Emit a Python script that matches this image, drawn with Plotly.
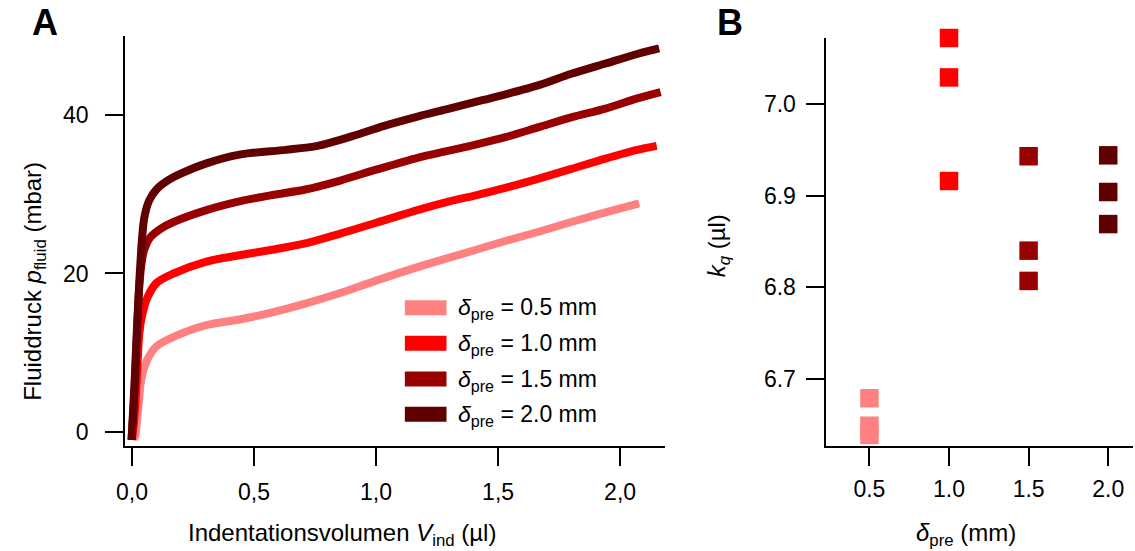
import plotly.graph_objects as go

# ---------------- data ----------------
# Panel A: fluid pressure vs. indentation volume for four pre-indentations
v_05 = [0.008, 0.015, 0.022, 0.030, 0.035, 0.045, 0.062, 0.10, 0.17, 0.305, 0.44, 0.575, 0.71,
        0.85, 1.00, 1.17, 1.30, 1.40, 1.53, 1.67, 1.80, 1.94, 2.078]
p_05 = [-1.0, -0.2, 1.9, 4.5, 6.1, 7.6, 9.1, 10.8, 12.0, 13.5, 14.2, 15.1, 16.2,
        17.5, 19.1, 20.8, 22.0, 22.9, 24.1, 25.3, 26.5, 27.7, 28.86]

v_10 = [0.0, 0.01, 0.02, 0.03, 0.042, 0.062, 0.10, 0.17, 0.305, 0.44, 0.575, 0.71,
        0.85, 1.00, 1.17, 1.30, 1.40, 1.53, 1.67, 1.80, 1.94, 2.07, 2.15]
p_10 = [-1.0, 2.0, 7.0, 12.5, 14.8, 16.9, 18.8, 20.0, 21.5, 22.3, 23.0, 23.8,
        25.0, 26.4, 28.0, 29.1, 29.8, 30.8, 32.0, 33.2, 34.5, 35.6, 36.1]

v_15 = [-0.002, 0.01, 0.02, 0.03, 0.04, 0.05, 0.076, 0.12, 0.17, 0.305, 0.44, 0.575, 0.71,
        0.85, 1.00, 1.17, 1.30, 1.40, 1.53, 1.67, 1.80, 1.94, 2.07, 2.166]
p_15 = [-1.0, 5.0, 12.0, 18.5, 21.5, 23.0, 24.6, 25.7, 26.5, 28.0, 29.1, 29.9, 30.6,
        31.7, 33.1, 34.6, 35.5, 36.2, 37.2, 38.5, 39.7, 40.8, 42.1, 42.9]

v_20 = [-0.002, 0.01, 0.02, 0.03, 0.04, 0.05, 0.07, 0.10, 0.15, 0.20, 0.305, 0.44, 0.63,
        0.76, 0.90, 1.03, 1.17, 1.30, 1.44, 1.53, 1.67, 1.80, 1.94, 2.07, 2.16]
p_20 = [-1.0, 6.0, 13.0, 19.0, 24.0, 27.0, 29.2, 30.6, 31.8, 32.6, 33.9, 35.0, 35.6,
        36.1, 37.3, 38.6, 39.8, 40.8, 41.9, 42.6, 43.8, 45.2, 46.5, 47.7, 48.4]

# Panel B: k_q for each pre-indentation depth
d_pre = [0.5, 0.5, 0.5, 1.0, 1.0, 1.0, 1.5, 1.5, 1.5, 2.0, 2.0, 2.0]
k_q = [6.679, 6.649, 6.639, 7.072, 7.029, 6.916, 6.943, 6.840, 6.807, 6.944, 6.904, 6.869]

depth_labels = ["0.5", "1.0", "1.5", "2.0"]
x_ticks_a = [0, 0.5, 1.0, 1.5, 2.0]
x_ticktext_a = ["0,0", "0,5", "1,0", "1,5", "2,0"]
y_ticks_a = [0, 20, 40]
x_ticks_b = [0.5, 1.0, 1.5, 2.0]
y_ticks_b = [6.7, 6.8, 6.9, 7.0]

colors = ["#FF8080", "#FF0000", "#990000", "#600000"]
color_by_depth = {0.5: colors[0], 1.0: colors[1], 1.5: colors[2], 2.0: colors[3]}

W, H = 1135, 551
FONT = "Liberation Sans, Arial, sans-serif"


def px(x):
    return x / W


def py(y):
    return 1 - y / H


fig = go.Figure()

curves = [(v_05, p_05), (v_10, p_10), (v_15, p_15), (v_20, p_20)]
for (vx, pv), c, lab in zip(curves, colors, depth_labels):
    fig.add_trace(go.Scatter(
        x=vx, y=pv, mode="lines", line=dict(color=c, width=8, shape="spline", smoothing=0.8),
        name=lab, showlegend=False, xaxis="x", yaxis="y", cliponaxis=False,
    ))

fig.add_trace(go.Scatter(
    x=d_pre, y=k_q, mode="markers",
    marker=dict(symbol="square", size=18.5, color=[color_by_depth[d] for d in d_pre],
                line=dict(width=0)),
    showlegend=False, xaxis="x2", yaxis="y2", cliponaxis=False,
))

axis_common = dict(
    showline=True, linewidth=2, linecolor="black", ticks="outside", ticklen=18,
    tickwidth=2, tickcolor="black", showgrid=False, zeroline=False,
    tickfont=dict(family=FONT, size=23, color="black"),
)

fig.update_layout(
    width=W, height=H, margin=dict(l=0, r=0, t=0, b=0),
    paper_bgcolor="white", plot_bgcolor="white",
    font=dict(family=FONT, size=23, color="black"),
    xaxis=dict(domain=[px(117), px(661)], range=[-0.0285, 2.183], anchor="y",
               tickvals=x_ticks_a, ticktext=x_ticktext_a, ticklabelstandoff=6, **axis_common),
    yaxis=dict(domain=[py(446), py(36)], range=[-1.77, 49.97], anchor="x",
               tickvals=y_ticks_a, ticklabelstandoff=12, **axis_common),
    xaxis2=dict(domain=[px(824), px(1133)], range=[0.2302, 2.1558], anchor="y2",
                tickvals=x_ticks_b, ticktext=depth_labels, ticklabelstandoff=3, **axis_common),
    yaxis2=dict(domain=[py(446), py(38)], range=[6.6269, 7.072], anchor="x2",
                tickvals=y_ticks_b, tickformat=".1f", ticklabelstandoff=6, **axis_common),
)

annotations = [
    dict(text="<b>A</b>", x=px(36), y=py(23), font=dict(size=36)),
    dict(text="<b>B</b>", x=px(727), y=py(23), font=dict(size=36)),
    dict(text="Indentationsvolumen <i>V</i><sub>ind</sub> (µl)", x=px(336), y=py(534),
         font=dict(size=24)),
    dict(text="<i>δ</i><sub>pre</sub> (mm)", x=px(965), y=py(534), font=dict(size=24)),
    dict(text="Fluiddruck <i>p</i><sub>fluid</sub> (mbar)", x=px(25), y=py(281),
         textangle=-90, font=dict(size=24)),
    dict(text="<i>k<sub>q</sub></i> (µl)", x=px(715), y=py(246), textangle=-90,
         font=dict(size=24)),
]

# legend for panel A: colour swatches with labels
legend_rows = [307.7, 343.3, 379.0, 414.3]
shapes = []
for row, c, lab in zip(legend_rows, colors, depth_labels):
    shapes.append(dict(type="rect", xref="paper", yref="paper",
                       x0=px(399), x1=px(441), y0=py(row + 7.5), y1=py(row - 7.5),
                       fillcolor=c, line=dict(width=0)))
    annotations.append(dict(text=f"<i>δ</i><sub>pre</sub> = {lab} mm", x=px(451), y=py(row + 1),
                            xanchor="left", font=dict(size=23)))

for a in annotations:
    a.setdefault("xref", "paper")
    a.setdefault("yref", "paper")
    a.setdefault("showarrow", False)
    a.setdefault("xanchor", "center")
    a.setdefault("yanchor", "middle")

fig.update_layout(annotations=annotations, shapes=shapes)

fig.write_html("out.html")
